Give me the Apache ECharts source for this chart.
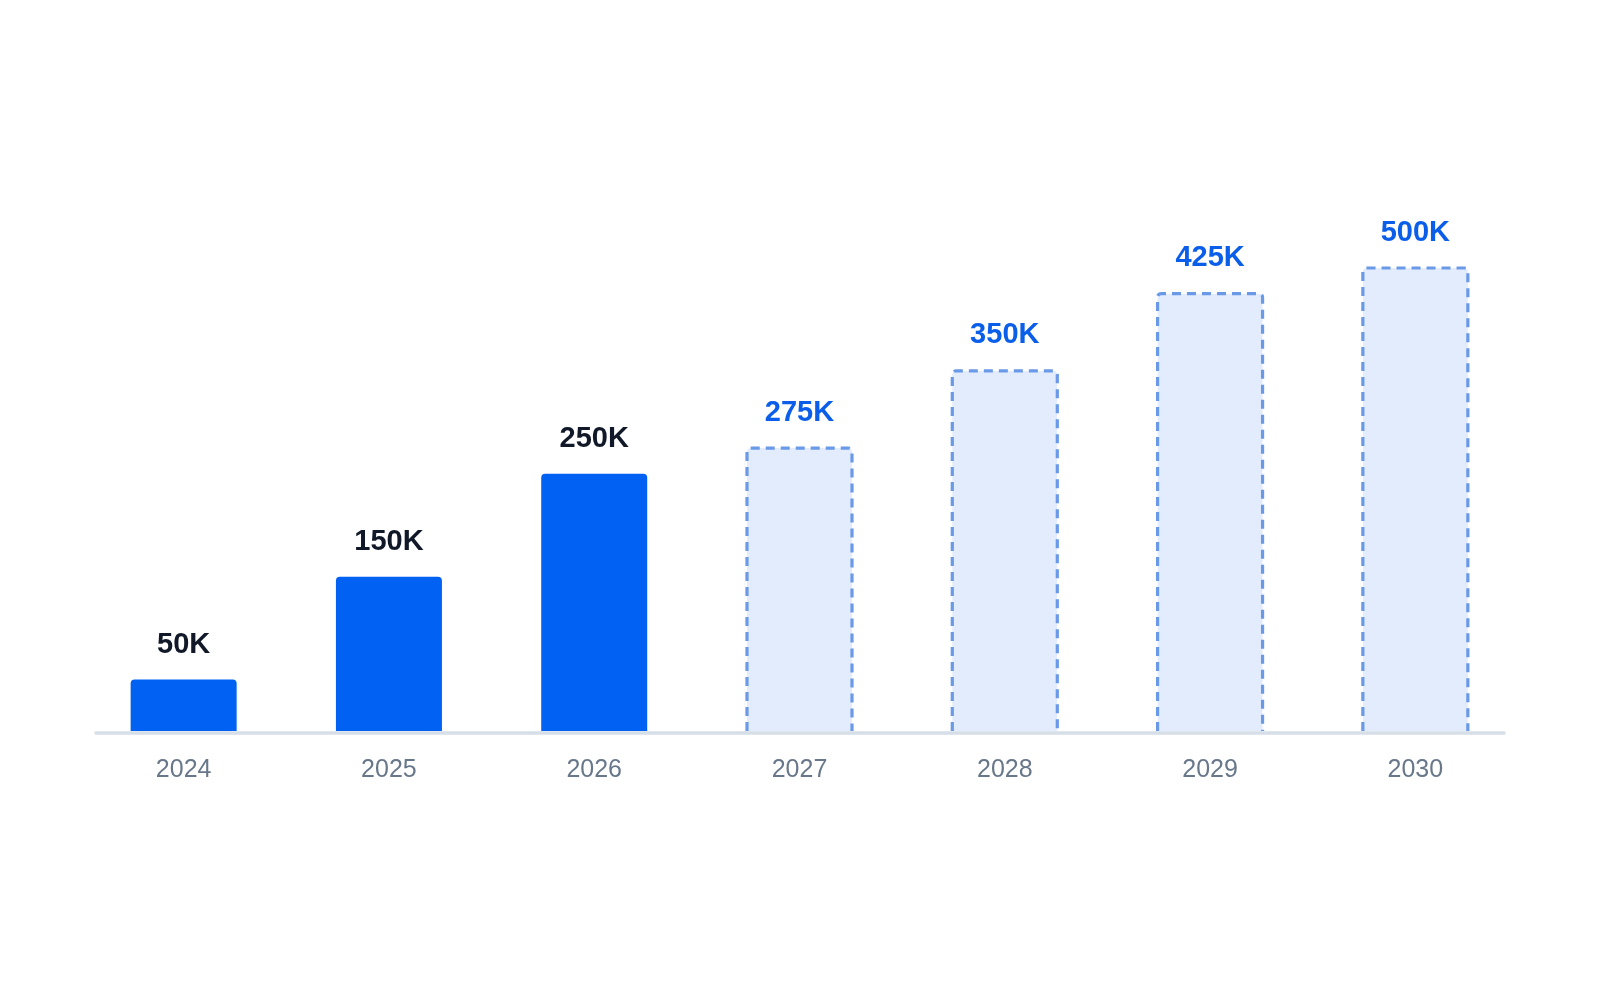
<!DOCTYPE html>
<html>
<head>
<meta charset="utf-8">
<script src="https://cdn.jsdelivr.net/npm/echarts@6/dist/echarts.min.js"></script>
<style>
  html, body { margin: 0; padding: 0; background: #fff; }
  #chart { width: 1600px; height: 1000px; }
</style>
</head>
<body>
<div id="chart"></div>
<script>
// years on the x axis
const years = ['2024', '2025', '2026', '2027', '2028', '2029', '2030'];
// values in thousands; actual years first, forecast after
const actual = [50, 150, 250, '-', '-', '-', '-'];
const forecast = ['-', '-', '-', 275, 350, 425, 500];

const myChart = echarts.init(document.querySelector('#chart'));

const BAR_W = 106;
const labelFont = { fontSize: 29, fontWeight: 'bold', fontFamily: 'Liberation Sans' };

// forecast points as [categoryIndex, value]
const forecastData = forecast
  .map((v, i) => [i, v])
  .filter(d => d[1] !== '-');

// dashed outline on three sides (open at the bottom), light fill
function renderForecast(params, api) {
  const i = api.value(0);
  const v = api.value(1);
  const base = api.coord([i, 0]);
  const top = api.coord([i, v]);
  const area = params.coordSys;
  const yt = Math.max(top[1], area.y); // clip to the grid like a bar
  const yb = base[1];
  const x0 = base[0] - (BAR_W - 1) / 2;
  const x1 = base[0] + (BAR_W - 1) / 2;
  const r = 4;
  const path = 'M' + x0 + ' ' + yb +
    ' L' + x0 + ' ' + (yt + r) +
    ' Q' + x0 + ' ' + yt + ' ' + (x0 + r) + ' ' + yt +
    ' L' + (x1 - r) + ' ' + yt +
    ' Q' + x1 + ' ' + yt + ' ' + x1 + ' ' + (yt + r) +
    ' L' + x1 + ' ' + yb;
  return {
    type: 'group',
    children: [
      {
        type: 'rect',
        shape: { x: x0, y: yt, width: x1 - x0, height: yb - yt, r: [r, r, 0, 0] },
        style: { fill: '#e3ecfc' }
      },
      {
        type: 'path',
        shape: { pathData: path },
        style: {
          fill: null,
          stroke: '#6a99e8',
          lineWidth: 3.2,
          lineDash: [9, 6]
        }
      },
      {
        type: 'text',
        style: Object.assign({
          text: v + 'K',
          x: base[0],
          y: yt - 21,
          align: 'center',
          verticalAlign: 'bottom',
          fill: '#0a5ee9'
        }, labelFont)
      }
    ]
  };
}

myChart.setOption({
  animation: false,
  grid: [
    { left: 81, right: 82, top: 268, bottom: 269 },
    { left: 96, right: 96, top: 268, bottom: 267.5 }
  ],
  xAxis: [
    {
      type: 'category',
      data: years,
      axisLine: { show: false },
      axisTick: { show: false },
      axisLabel: {
        color: '#687789',
        fontSize: 25,
        fontFamily: 'Liberation Sans',
        margin: 27
      }
    },
    {
      // baseline, drawn over the bar bottoms
      gridIndex: 1,
      type: 'value',
      min: 0,
      max: 1,
      zlevel: 1,
      z: 10,
      position: 'bottom',
      axisLine: { show: true, onZero: false, lineStyle: { color: '#d6dee7', width: 3.5 } },
      axisTick: { show: false },
      axisLabel: { show: false },
      splitLine: { show: false }
    }
  ],
  yAxis: [
    { type: 'value', min: 0, max: 450, show: false },
    { gridIndex: 1, type: 'value', show: false }
  ],
  series: [
    {
      name: 'actual',
      type: 'bar',
      barWidth: BAR_W,
      data: actual,
      itemStyle: { color: '#0061f2', borderRadius: [4, 4, 0, 0] },
      label: Object.assign({
        show: true,
        position: 'top',
        distance: 20,
        formatter: p => p.value + 'K',
        color: '#111827'
      }, labelFont)
    },
    {
      name: 'forecast',
      type: 'custom',
      renderItem: renderForecast,
      encode: { x: 0, y: 1 },
      data: forecastData
    }
  ]
});
</script>
</body>
</html>
